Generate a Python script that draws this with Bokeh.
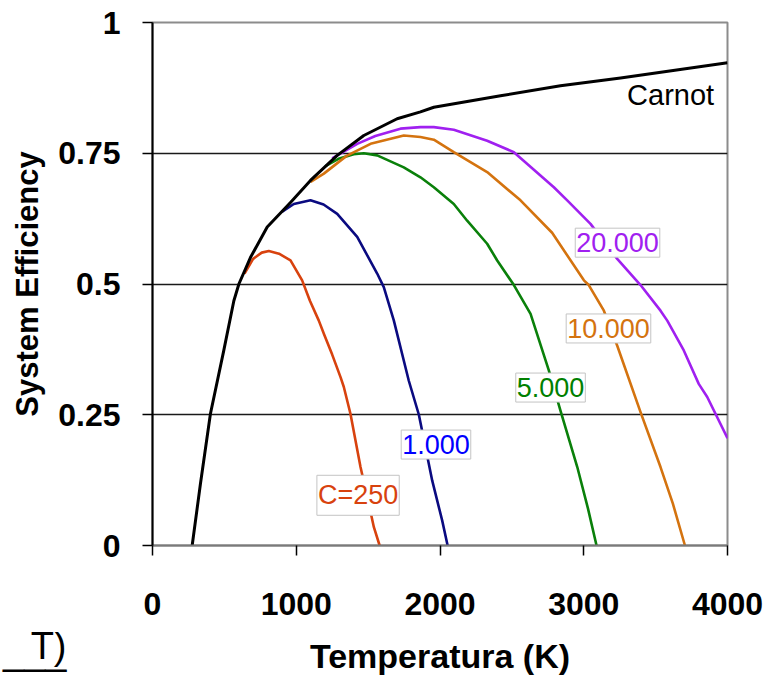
from math import pi
from bokeh.plotting import figure
from bokeh.layouts import column
from bokeh.models import Range1d, FixedTicker, Label
from bokeh.core.properties import value
from bokeh.embed import file_html
from bokeh.resources import INLINE

# ---- data ----
carnot_T = [276, 334, 403, 496, 566, 601, 682, 798, 960, 1099, 1285, 1470, 1702, 1864, 1957, 2421, 2838, 3256, 4000]
carnot_eff = [0.0, 0.119, 0.252, 0.373, 0.468, 0.500, 0.551, 0.609, 0.656, 0.698, 0.746, 0.784, 0.816, 0.829, 0.838, 0.860, 0.879, 0.894, 0.923]

c250_T = [640, 700, 760, 809, 880, 960, 1041, 1095, 1157, 1192, 1250, 1308, 1331, 1377, 1447, 1500, 1540, 1580]
c250_eff = [0.520, 0.548, 0.560, 0.563, 0.558, 0.545, 0.507, 0.468, 0.430, 0.405, 0.365, 0.322, 0.303, 0.252, 0.150, 0.085, 0.035, 0.0]

c1000_T = [900, 983, 1099, 1190, 1285, 1424, 1563, 1609, 1679, 1783, 1853, 1946, 2015, 2053]
c1000_eff = [0.638, 0.653, 0.660, 0.652, 0.634, 0.590, 0.520, 0.494, 0.430, 0.315, 0.250, 0.124, 0.048, 0.0]

c5000_T = [1200, 1300, 1400, 1470, 1563, 1748, 1864, 1957, 2096, 2189, 2328, 2398, 2514, 2630, 2757, 2838, 2955, 3030, 3089]
c5000_eff = [0.725, 0.740, 0.748, 0.750, 0.746, 0.723, 0.704, 0.685, 0.653, 0.621, 0.577, 0.545, 0.498, 0.443, 0.335, 0.258, 0.150, 0.070, 0.0]

c10000_T = [1100, 1192, 1350, 1517, 1748, 1864, 1957, 2096, 2328, 2560, 2780, 3001, 3035, 3140, 3233, 3395, 3534, 3620, 3704]
c10000_eff = [0.695, 0.711, 0.745, 0.768, 0.784, 0.781, 0.776, 0.752, 0.714, 0.660, 0.598, 0.507, 0.498, 0.449, 0.382, 0.255, 0.150, 0.080, 0.0]

c20000_T = [1250, 1424, 1550, 1725, 1864, 1957, 2096, 2328, 2514, 2792, 2885, 3047, 3233, 3395, 3534, 3581, 3696, 3800, 3859, 4000]
c20000_eff = [0.740, 0.768, 0.783, 0.797, 0.800, 0.800, 0.795, 0.774, 0.752, 0.685, 0.660, 0.615, 0.548, 0.498, 0.449, 0.430, 0.373, 0.309, 0.284, 0.205]

x_ticks = [0, 1000, 2000, 3000, 4000]
y_ticks = [0, 0.25, 0.5, 0.75, 1]
y_tick_labels = ["0", "0.25", "0.5", "0.75", "1"]

series = [
    ("C=250", c250_T, c250_eff, "#d8420e", "#d8420e", 1430, 0.096),
    ("1.000", c1000_T, c1000_eff, "#0a0a80", "#0000ff", 1972, 0.193),
    ("5.000", c5000_T, c5000_eff, "#0a800a", "#008000", 2769, 0.302),
    ("10.000", c10000_T, c10000_eff, "#d4730f", "#d4730f", 3172, 0.415),
    ("20.000", c20000_T, c20000_eff, "#a020f0", "#a020f0", 3235, 0.579),
]

FONT = "Liberation Sans"
W = 767
TOP_H = 632
BOT_H = 679 - TOP_H

p = figure(width=W, height=TOP_H, output_backend="svg", toolbar_location=None,
           x_range=Range1d(0, 4000), y_range=Range1d(0, 1),
           min_border_left=152, min_border_top=22, min_border_right=40,
           min_border_bottom=TOP_H - 545)

p.background_fill_color = "white"
p.border_fill_color = "white"
p.outline_line_color = "#8c8c8c"
p.outline_line_width = 2

p.xgrid.visible = False
p.ygrid.ticker = FixedTicker(ticks=[0.25, 0.5, 0.75])
p.ygrid.grid_line_color = "#1a1a1a"
p.ygrid.grid_line_width = 1.3

p.xaxis.ticker = FixedTicker(ticks=x_ticks)
p.yaxis.ticker = FixedTicker(ticks=y_ticks)
p.yaxis.major_label_overrides = {t: s for t, s in zip(y_ticks, y_tick_labels)}

for ax in (p.xaxis, p.yaxis):
    ax.major_label_text_font = FONT
    ax.major_label_text_font_style = "bold"
    ax.major_label_text_font_size = "32px"
    ax.major_label_text_color = "black"
    ax.major_tick_out = 10
    ax.major_tick_in = 0
    ax.minor_tick_out = 0
    ax.minor_tick_in = 0
    ax.major_tick_line_color = "black"
    ax.major_tick_line_width = 1.5
    ax.axis_line_width = 2

p.yaxis.axis_line_color = "black"
p.xaxis.axis_line_color = "#7a7a7a"
p.yaxis.major_label_standoff = 22
p.xaxis.major_label_standoff = 37

p.yaxis.axis_label = "System Efficiency"
p.yaxis.axis_label_text_font = FONT
p.yaxis.axis_label_text_font_style = "bold"
p.yaxis.axis_label_text_font_size = "31px"
p.yaxis.axis_label_text_color = "black"
p.yaxis.axis_label_standoff = 10

for name, T, eff, lc, tc, lx, ly in series:
    p.line(T, eff, line_color=lc, line_width=2.6, line_join="round")

p.line(carnot_T, carnot_eff, line_color="black", line_width=3, line_join="round")

for name, T, eff, lc, tc, lx, ly in series:
    p.add_layout(Label(x=lx, y=ly, text=name, text_font=FONT, text_font_size="27px",
                       text_color=tc, text_align="center", text_baseline="middle",
                       background_fill_color="white", border_line_color="#c4c4c4",
                       border_line_width=1, padding=(1, 5)))

p.add_layout(Label(x=3604, y=0.862, text="Carnot", text_font=FONT, text_font_size="29px",
                   text_color="black", text_align="center", text_baseline="middle"))

# ---- bottom strip: x-axis title and the cropped fragment at lower left ----
q = figure(width=W, height=BOT_H, output_backend="svg", toolbar_location=None,
           x_range=Range1d(0, 4000), y_range=Range1d(0, 1),
           x_axis_location=None, y_axis_location="left",
           min_border_left=152, min_border_right=40,
           min_border_top=0, min_border_bottom=0)
q.grid.visible = False
q.outline_line_color = None
q.background_fill_color = "white"
q.border_fill_color = "white"

q.yaxis.ticker = FixedTicker(ticks=[])
q.yaxis.major_tick_out = 0
q.yaxis.major_tick_in = 0
q.yaxis.minor_tick_out = 0
q.yaxis.minor_tick_in = 0
q.yaxis.axis_line_color = None
q.yaxis.axis_label = "T)\n___\n\u00a0\n\u00a0\n\u00a0"
q.yaxis.axis_label_orientation = "horizontal"
q.yaxis.axis_label_text_font = FONT
q.yaxis.axis_label_text_font_style = "normal"
q.yaxis.axis_label_text_font_size = "38px"
q.yaxis.axis_label_text_line_height = 0.12
q.yaxis.axis_label_text_color = "black"
q.yaxis.axis_label_standoff = 86

q.text(x=[2000], y=[0.5], text=["Temperatura (K)"], text_font=value(FONT),
       text_font_style="bold", text_font_size="34px", text_align="center",
       text_baseline="middle", text_color="black")

layout = column(p, q, spacing=0)

open("out.html", "w").write(file_html(layout, INLINE))
